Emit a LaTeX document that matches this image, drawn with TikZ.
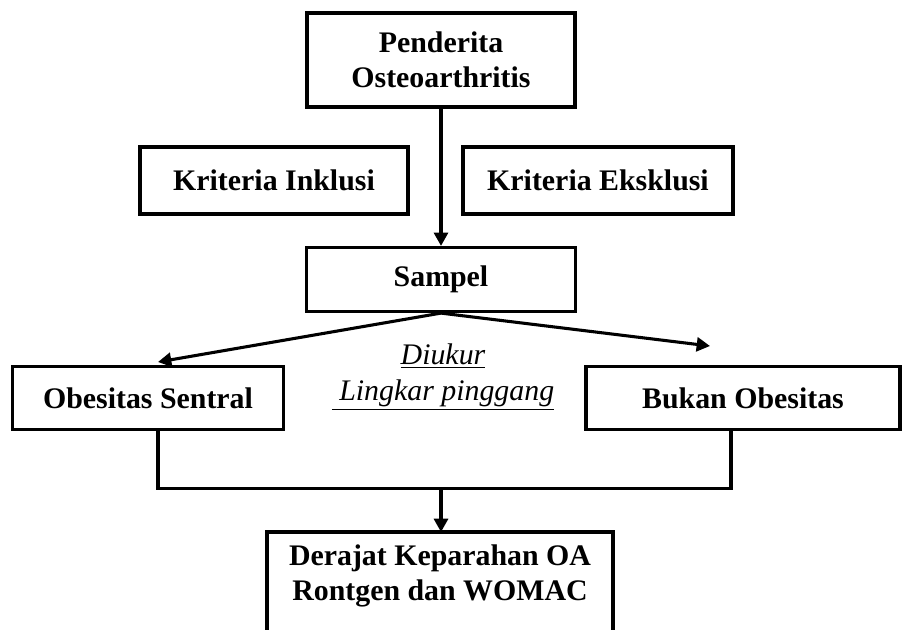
\documentclass[tikz,border=0pt]{standalone}
\usepackage{fontspec}
\setmainfont{Liberation Serif}
\usetikzlibrary{arrows.meta}

\begin{document}
\begin{tikzpicture}[x=0.75pt, y=-0.75pt,
  box/.style = {draw, line width=2.4pt, align=center, inner sep=0pt,
    font=\bfseries\fontsize{22.4}{26}\selectfont},
  size/.style 2 args = {minimum width=#1*0.75pt, minimum height=#2*0.75pt},
  line/.style = {line width=2.3pt},
  arr/.style = {line width=2.3pt, -{Triangle[length=10pt, width=10.5pt]}}]
  \useasboundingbox (0,0) rectangle (909,629);
  \clip (0,0) rectangle (909,629);
  \node[box, size={268}{94}] (penderita) at (441,60) {Penderita\\Osteoarthritis};
  \node[box, size={268}{67}] (inklusi) at (274,180.5) {Kriteria Inklusi};
  \node[box, size={270}{67}] (eksklusi) at (598,180.5) {Kriteria Eksklusi};
  \node[box, size={269}{64}] (sampel) at (441,279.5) {Sampel};
  \node[box, size={271}{63}] (obesitas) at (148,398) {Obesitas Sentral};
  \node[box, size={314}{63}] (bukan) at (743,398) {Bukan Obesitas};
  \node[align=center, font=\itshape\fontsize{22.4}{27}\selectfont] (ukur) at (443,377)
    {\underline{Diukur}\\\underline{~Lingkar pinggang}};
  \node[align=center, font=\bfseries\fontsize{22.4}{26}\selectfont] (derajat) at (440,576)
    {Derajat Keparahan OA\\Rontgen dan WOMAC};
  \coordinate (kiri) at (158,362);
  \coordinate (kanan) at (710,346);
  \coordinate (gabung) at (441,487);
  \coordinate (atas) at (441,532);
  \draw[line width=2.4pt] (267,650) -- (267,532) -- (613,532) -- (613,650);
  \draw[arr] (penderita) -- (sampel);
  \draw[arr] (sampel.south) -- (kiri);
  \draw[arr] (sampel.south) -- (kanan);
  \draw[line] ([xshift=7.5pt]obesitas.south) -- ++(0,57) -| ([xshift=-9pt]bukan.south);
  \draw[arr] (gabung) -- (atas);
\end{tikzpicture}
\end{document}
